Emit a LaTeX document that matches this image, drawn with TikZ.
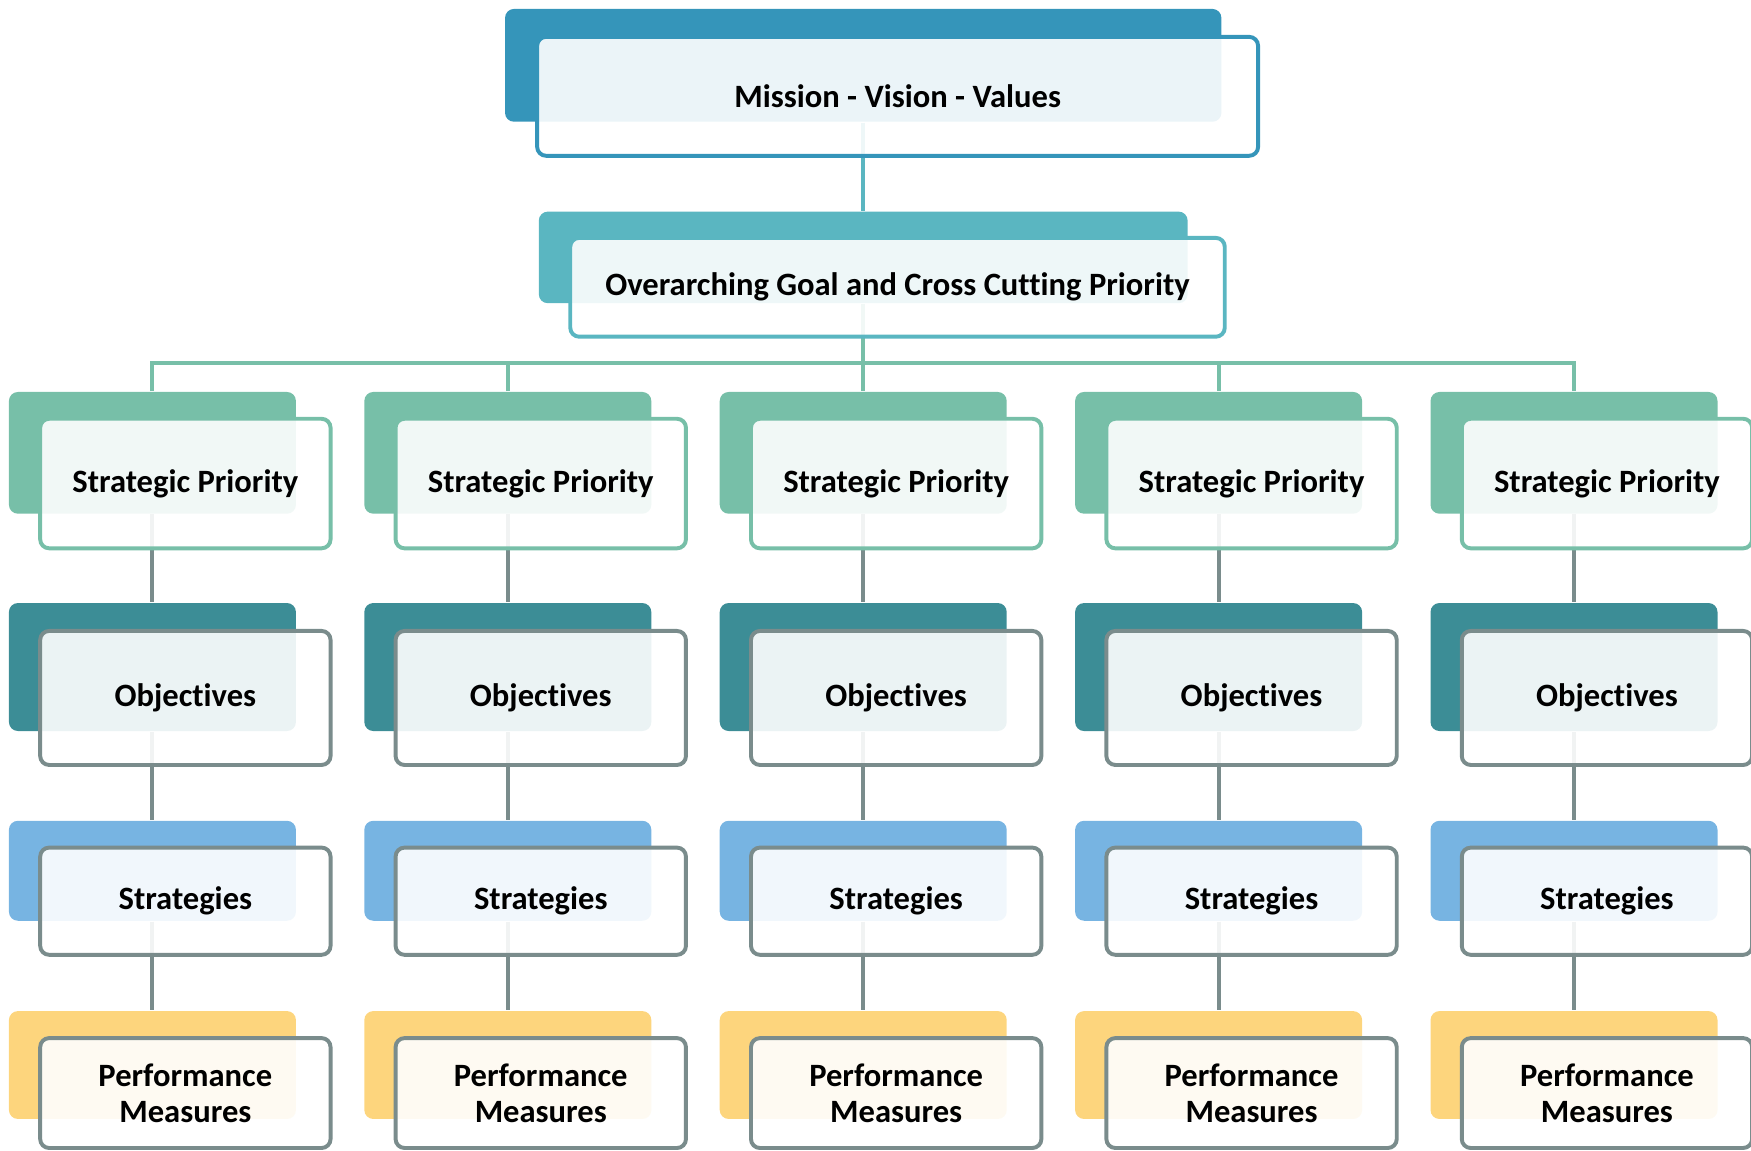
\documentclass[tikz,border=0pt]{standalone}
\usepackage{fontspec}
\setmainfont{Carlito}[Ligatures=NoCommon]
\usetikzlibrary{backgrounds}
\definecolor{mvvblue}{HTML}{3595BA}
\definecolor{goalteal}{HTML}{5AB6C1}
\definecolor{prioritygreen}{HTML}{77BFA8}
\definecolor{objteal}{HTML}{3C8D96}
\definecolor{stratblue}{HTML}{77B4E2}
\definecolor{measureyellow}{HTML}{FDD57D}
\definecolor{linegray}{HTML}{7A8C8C}

\begin{document}
\begin{tikzpicture}[
  back/.style={rectangle, rounded corners=0.08cm, inner sep=0pt, fill=#1},
  front/.style={rectangle, rounded corners=0.08cm, inner sep=0pt, draw=#1, line width=1pt,
    fill=white, fill opacity=0.9, text opacity=1, align=center,
    font=\bfseries\fontsize{8.3}{9.1}\selectfont},
  link/.style={draw=#1, line width=1pt}
]
\useasboundingbox (0,0) rectangle (15.68,-10.30);

% top two levels
\draw (7.73,-0.585) node[back=mvvblue, minimum width=6.415cm, minimum height=1.01cm](mvvb) {};
\draw (8.038,-0.8625) node[front=mvvblue, minimum width=6.456cm, minimum height=1.065cm](mvv) {Mission - Vision - Values};
\draw (7.73,-2.305) node[back=goalteal, minimum width=5.81cm, minimum height=0.82cm](goalb) {};
\draw (8.037,-2.5725) node[front=goalteal, minimum width=5.861cm, minimum height=0.885cm](goal) {Overarching Goal and Cross Cutting Priority};

% five columns
\foreach \i in {1,...,5}{
  \pgfmathsetmacro{\bx}{1.365+3.1825*(\i-1)}
  \pgfmathsetmacro{\fx}{\bx+0.295}
  \draw (\bx,-4.055) node[back=prioritygreen, minimum width=2.57cm, minimum height=1.09cm](spb\i) {};
  \draw (\fx,-4.33) node[front=prioritygreen, minimum width=2.6cm, minimum height=1.16cm](sp\i) {Strategic Priority};
  \draw (\bx,-5.973) node[back=objteal, minimum width=2.57cm, minimum height=1.146cm](objb\i) {};
  \draw (\fx,-6.25) node[front=linegray, minimum width=2.6cm, minimum height=1.2cm](obj\i) {Objectives};
  \draw (\bx,-7.7975) node[back=stratblue, minimum width=2.57cm, minimum height=0.895cm](strb\i) {};
  \draw (\fx,-8.07) node[front=linegray, minimum width=2.6cm, minimum height=0.96cm](str\i) {Strategies};
  \draw (\bx,-9.537) node[back=measureyellow, minimum width=2.57cm, minimum height=0.966cm](pmb\i) {};
  \draw (\fx,-9.788) node[front=linegray, minimum width=2.6cm, minimum height=0.984cm](pm\i) {Performance\\Measures};
}

% connectors behind the boxes
\begin{scope}[on background layer]
\coordinate (bar) at (7.73,-3.25);
\draw[link=goalteal] (mvvb) -- (goalb);
\draw[link=prioritygreen] (goalb) -- (bar);
\foreach \i in {1,...,5}{
  \draw[link=prioritygreen] (spb\i) |- (bar);
  \draw[link=linegray] (spb\i) -- (objb\i) -- (strb\i) -- (pmb\i);
}
\end{scope}
\end{tikzpicture}
\end{document}
